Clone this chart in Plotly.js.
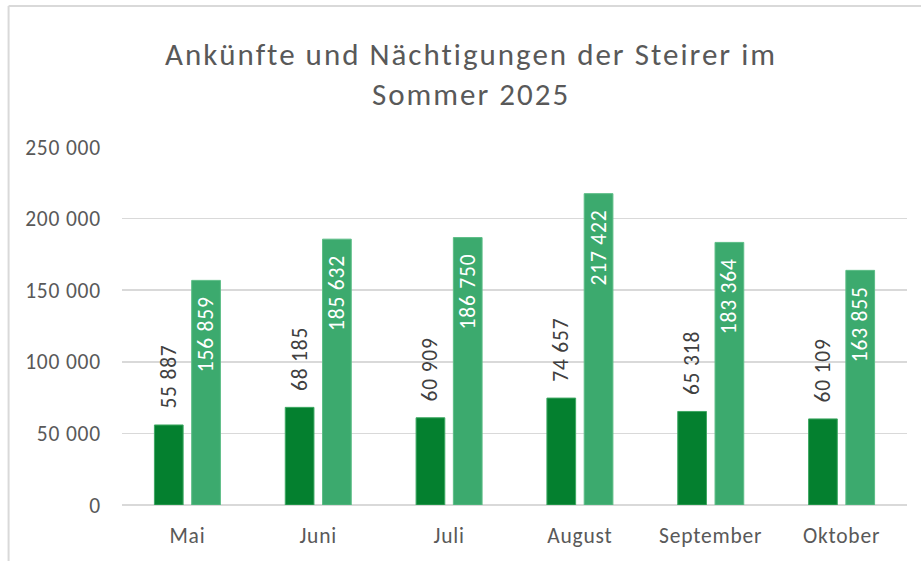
<!DOCTYPE html>
<html>
<head>
<meta charset="utf-8">
<script src="https://cdn.plot.ly/plotly-3.0.1.min.js"></script>
<style>
html,body{margin:0;padding:0;background:#fff;}
#chart{width:921px;height:561px;}
#chart .gtitle{letter-spacing:2px;}
#chart .xtick text,#chart .ytick text,#chart .bartext{letter-spacing:0.8px;}
</style>
</head>
<body>
<div id="chart"></div>
<script>
const months = ["Mai", "Juni", "Juli", "August", "September", "Oktober"];
const ankuenfte = [55887, 68185, 60909, 74657, 65318, 60109];
const naechtigungen = [156859, 185632, 186750, 217422, 183364, 163855];
const yTicks = [0, 50000, 100000, 150000, 200000, 250000];
const titleText = "Ankünfte und Nächtigungen der Steirer im<br>Sommer 2025";

const FONT = "Carlito, Lato, 'Liberation Sans', sans-serif";
const NB = "\u00a0\u00a0\u00a0";

const traces = [
  {
    type: "bar", name: "Ankünfte", x: months, y: ankuenfte,
    marker: {color: "#04802f", line: {color: "#3ea863", width: 1}},
    texttemplate: NB + "%{y:,d}", textposition: "outside", textangle: -90,
    textfont: {family: FONT, size: 21.5, color: "#404040"},
    constraintext: "none", cliponaxis: false, hoverinfo: "x+y"
  },
  {
    type: "bar", name: "Nächtigungen", x: months, y: naechtigungen,
    marker: {color: "#3caa6e", line: {color: "#5cbd86", width: 1}},
    texttemplate: "%{y:,d}" + NB, textposition: "inside", insidetextanchor: "end", textangle: -90,
    textfont: {family: FONT, size: 21.5, color: "#ffffff"},
    constraintext: "none", cliponaxis: false, hoverinfo: "x+y"
  }
];

const layout = {
  width: 921, height: 561,
  margin: {l: 121.5, r: 14, t: 147, b: 56},
  paper_bgcolor: "#ffffff", plot_bgcolor: "#ffffff",
  separators: ". ",
  showlegend: false,
  barmode: "group", bargap: 0.43, bargroupgap: 0.23,
  font: {family: FONT, color: "#595959"},
  title: {
    text: titleText,
    font: {family: FONT, size: 31, color: "#595959"},
    x: 471 / 921, xanchor: "center", xref: "container",
    y: 1 - 65 / 561, yanchor: "middle", yref: "container"
  },
  xaxis: {
    showgrid: false, zeroline: false, showline: false, ticks: "",
    tickfont: {family: FONT, size: 21.5, color: "#595959"},
    ticklabelstandoff: 15, fixedrange: true
  },
  yaxis: {
    range: [0, 250000], tickvals: yTicks, tickformat: ",d",
    showgrid: true, gridcolor: "#d9d9d9", gridwidth: 1.5,
    zeroline: true, zerolinecolor: "#d9d9d9", zerolinewidth: 1.5,
    showline: false, ticks: "",
    tickfont: {family: FONT, size: 21.5, color: "#595959"},
    ticklabelstandoff: 20, fixedrange: true
  },
  shapes: [
    {type: "line", xref: "paper", yref: "paper", x0: (8 - 121.5) / 785.5, x1: 1.02, y0: (505 - 6) / 358, y1: (505 - 6) / 358, line: {color: "#d9d9d9", width: 2}},
    {type: "line", xref: "paper", yref: "paper", x0: (8 - 121.5) / 785.5, x1: (8 - 121.5) / 785.5, y0: (505 - 6) / 358, y1: -0.2, line: {color: "#d9d9d9", width: 2}}
  ]
};

Plotly.newPlot("chart", traces, layout, {displayModeBar: false, staticPlot: true});
</script>
</body>
</html>
